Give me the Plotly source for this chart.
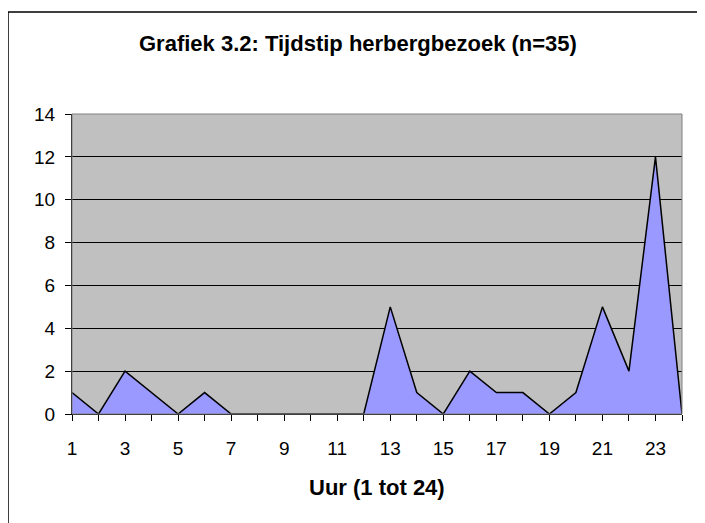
import plotly.graph_objects as go

hours = list(range(1, 25))
counts = [1, 0, 2, 1, 0, 1, 0, 0, 0, 0, 0, 0, 5, 1, 0, 2, 1, 1, 0, 1, 5, 2, 12, 0]
x_tick_vals = list(range(1, 25, 2))
y_tick_vals = list(range(0, 15, 2))
title_text = "Grafiek 3.2: Tijdstip herbergbezoek (n=35)"
x_title = "Uur (1 tot 24)"

OFF = 8  # browser body margin
W, H = 705 - OFF, 523 - OFF
PL, PR, PT, PB = 72, 682, 114, 414  # plot area in page pixels
L = PL - OFF
R = W - (PR - OFF)
T = PT - OFF
B = H - (PB - OFF)
PW = W - L - R
PH = H - T - B


def px(xp):
    return (xp - PL) / PW


def py(yp):
    return (PB - yp) / PH


fig = go.Figure()
fig.add_trace(go.Scatter(
    x=hours, y=counts, mode="lines", fill="tozeroy",
    fillcolor="#9999FF", line=dict(color="black", width=1.5),
    hoverinfo="x+y", showlegend=False,
))

font = "Arial, Liberation Sans, sans-serif"
fig.update_layout(
    width=W, height=H,
    margin=dict(l=L, r=R, t=T, b=B),
    paper_bgcolor="white", plot_bgcolor="#C0C0C0",
    font=dict(family=font, color="black", size=19),
    xaxis=dict(
        range=[1, 24], tickmode="array", tickvals=x_tick_vals,
        ticktext=[str(v) for v in x_tick_vals],
        showgrid=False, zeroline=False,
        ticks="outside", ticklen=6, tickcolor="black",
        minor=dict(ticks="outside", ticklen=6, tickcolor="black", dtick=1, tick0=0),
        showline=True, linecolor="black", linewidth=1,
        tickfont=dict(size=19), ticklabelstandoff=11,
    ),
    yaxis=dict(
        range=[0, 14], tickmode="array", tickvals=y_tick_vals,
        showgrid=True, gridcolor="black", gridwidth=1,
        zeroline=False, ticks="outside", ticklen=6, tickcolor="black",
        showline=True, linecolor="black", linewidth=1,
        tickfont=dict(size=19), ticklabelstandoff=6,
    ),
    shapes=[
        dict(type="rect", xref="paper", yref="paper", x0=0, x1=1, y0=0, y1=1,
             line=dict(color="#808080", width=1), layer="above"),
        dict(type="rect", xref="paper", yref="paper",
             x0=px(8), x1=px(740), y0=py(560), y1=py(12),
             line=dict(color="black", width=1.5), layer="above"),
    ],
    annotations=[
        dict(text="<b>" + title_text + "</b>", xref="paper", yref="paper",
             x=px(357.5), y=py(43),
             showarrow=False, font=dict(size=22), xanchor="center", yanchor="middle"),
        dict(text="<b>" + x_title + "</b>", xref="paper", yref="paper",
             x=px(377), y=py(487),
             showarrow=False, font=dict(size=22), xanchor="center", yanchor="middle"),
    ],
)

fig.write_html("out.html")
